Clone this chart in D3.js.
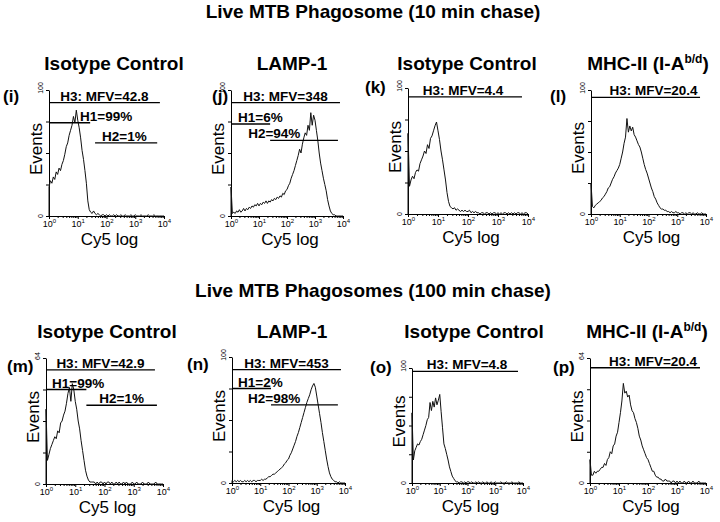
<!DOCTYPE html>
<html>
<head>
<meta charset="utf-8">
<script src="https://cdn.jsdelivr.net/npm/d3@7"></script>
<style>
  body { margin: 0; background: #fff; }
  svg text { font-family: "Liberation Sans", Arial, sans-serif; fill: #000; }
</style>
</head>
<body>
<svg id="chart" width="720" height="522"></svg>
<script>

// Data
// ====

const rowTitles = ["Live MTB Phagosome (10 min chase)", "Live MTB Phagosomes (100 min chase)"];
const panelLetters = ["(i)", "(j)", "(k)", "(l)", "(m)", "(n)", "(o)", "(p)"];
// title parts: [text, superscript, text]
const panelTitles = [
  ["Isotype Control"], ["LAMP-1"], ["Isotype Control"], ["MHC-II (I-A", "b/d", ")"],
  ["Isotype Control"], ["LAMP-1"], ["Isotype Control"], ["MHC-II (I-A", "b/d", ")"]
];
const yMax = [100, 100, 100, 100, 64, 100, 100, 64];
const xMajor = [1, 10, 100, 1000, 10000];
const xMajorExp = ["0", "1", "2", "3", "4"];

// 81 channels, 20 per decade, from 10^0 to 10^4
const channels = d3.range(81).map((k) => Math.pow(10, k / 20));

const histI = [23,28,26,31,29,35,33,38,36,41, 44,49,55,58,64,68,72,79,74,84, 76,70,62,52,45,36,26,12,5,3,
  2,4,2,1,2,1,0,1,1,0, 1,0,1,0,0,1,0,1,0,0, 1,0,0,1,0,0,0,1,0,0, 1,0,0,0,1,0,0,0,0,1, 0,0,0,1,0,0,0,0,0,0, 0];
const histJ = [23,2,3,2,4,3,5,3,4,6, 4,6,5,7,6,8,7,9,8,10, 8,10,9,11,10,12,10,12,11,13,
  12,14,13,15,14,16,15,18,17,20, 21,24,26,30,33,36,40,44,48,53, 50,57,62,66,64,72,68,82,72,80,
  76,68,60,50,42,36,30,25,20,13, 8,4,2,1,1,0,0,0,0,0, 0];
const histK = [64,22,27,30,28,33,35,34,40,43, 46,50,48,55,52,60,62,66,70,73, 66,59,50,43,35,27,17,10,6,5,
  4,5,3,4,3,2,3,2,3,2, 2,3,1,2,1,2,1,1,0,1, 1,0,1,1,0,1,0,1,1,0, 1,0,1,0,1,1,0,1,0,1, 0,1,0,1,1,0,1,0,1,1, 0];
const histL = [25,6,5,7,8,9,10,11,13,14, 16,18,21,22,25,28,30,33,35,37, 40,45,50,57,62,77,66,71,67,70,
  64,62,59,56,54,50,45,40,36,33, 29,25,21,18,14,12,9,7,5,4, 4,3,3,2,2,1,2,1,1,2,
  1,1,0,1,1,0,1,0,1,1, 0,1,0,0,1,0,0,1,0,0, 0];
const histM = [38,12,15,18,20,22,24,23,27,26, 31,32,35,37,41,46,49,42,51,48, 42,38,32,28,22,17,12,7,4,2,
  1,1,1,1,0,1,0,1,1,0, 1,0,1,1,0,1,0,0,1,0, 1,0,0,1,0,1,0,0,0,1, 0,0,1,0,0,0,1,0,0,0, 1,0,0,0,0,1,0,0,0,0, 0];
const histN = [2,1,2,1,2,1,2,1,1,2, 1,2,1,2,1,2,2,1,2,2, 2,3,2,3,3,4,5,5,6,7, 7,8,9,10,11,12,13,15,16,18,
  19,22,24,27,30,33,37,40,44,48, 52,56,60,64,67,70,74,77,79,76, 69,62,55,48,40,33,26,19,13,8,
  5,3,2,1,1,0,1,0,0,0, 0];
const histO = [61,20,28,31,34,33,36,38,42,46, 50,55,57,70,63,71,66,74,68,72, 77,62,48,34,30,25,20,14,10,6,
  4,2,1,1,0,1,1,0,1,0, 1,1,0,1,0,0,1,0,1,0, 0,1,0,0,1,0,0,1,0,0, 1,0,0,0,1,0,0,0,1,0, 0,0,1,0,0,0,0,1,0,0, 0];
const histP = [12,4,4,6,5,6,6,7,8,8, 10,9,12,13,16,15,19,20,24,26, 31,36,42,51,46,47,44,45,40,37,
  36,33,31,28,24,22,19,17,15,13, 12,10,8,6,6,4,3,3,2,2, 1,1,2,1,1,1,0,1,1,0,
  1,0,1,0,0,1,0,0,1,0, 0,1,0,0,0,1,0,0,0,0, 0];
const histograms = [histI, histJ, histK, histL, histM, histN, histO, histP];

// gate markers: [name, label, from, to, level (events)]
const gatesI = [["H3", "H3: MFV=42.8", 1, 7200, 90], ["H1", "H1=99%", 1, 27, 74], ["H2", "H2=1%", 40, 5800, 58]];
const gatesJ = [["H3", "H3: MFV=348", 1, 7800, 90], ["H1", "H1=6%", 1, 25, 73], ["H2", "H2=94%", 25, 6600, 60]];
const gatesK = [["H3", "H3: MFV=4.4", 1, 6300, 93]];
const gatesL = [["H3", "H3: MFV=20.4", 1, 6200, 94]];
const gatesM = [["H3", "H3: MFV=42.9", 1, 5300, 58], ["H1", "H1=99%", 1, 24, 48], ["H2", "H2=1%", 24, 6200, 40]];
const gatesN = [["H3", "H3: MFV=453", 1, 7200, 90], ["H1", "H1=2%", 1, 24, 75], ["H2", "H2=98%", 24, 5600, 62]];
const gatesO = [["H3", "H3: MFV=4.8", 1, 6600, 97]];
const gatesP = [["H3", "H3: MFV=20.4", 1, 6200, 59]];
const gates = [gatesI, gatesJ, gatesK, gatesL, gatesM, gatesN, gatesO, gatesP];


// Layout
// ======

const layout = [
  { left: 49,  right: 164, top: 90,  bottom: 216, titleX: 114, titleY: 70,  letterX: 3,   letterY: 102, dx: { H1: 31, H2: 7 } },
  { left: 231, right: 343, top: 90,  bottom: 216, titleX: 292, titleY: 70,  letterX: 212, letterY: 102, dx: { H1: 7, H2: -22 } },
  { left: 408, right: 528, top: 88,  bottom: 214, titleX: 467, titleY: 70,  letterX: 365, letterY: 93,  dx: { H3: -2 } },
  { left: 591, right: 706, top: 90,  bottom: 214, titleX: 648, titleY: 70,  letterX: 550, letterY: 102, dx: { H3: 8 } },
  { left: 46,  right: 163, top: 358, bottom: 484, titleX: 107, titleY: 338, letterX: 7,   letterY: 372, dx: { H1: 6, H2: 13 } },
  { left: 232, right: 345, top: 357, bottom: 483, titleX: 292, titleY: 338, letterX: 187, letterY: 370, dx: { H1: 6, H2: -23 } },
  { left: 412, right: 523, top: 368, bottom: 483, titleX: 474, titleY: 338, letterX: 370, letterY: 373, dx: { H3: 2 } },
  { left: 590, right: 706, top: 358, bottom: 483, titleX: 647, titleY: 338, letterX: 553, letterY: 373, dx: { H3: 8 } }
];
const rowTitleY = [18, 297];

const svg = d3.select('#chart');

rowTitles.forEach((t, i) => {
  svg.append('text')
    .attr('x', 373).attr('y', rowTitleY[i])
    .attr('text-anchor', 'middle')
    .style('font-size', '19px').style('font-weight', 'bold')
    .text(t);
});

histograms.forEach((hist, p) => {
  const L = layout[p];
  const g = svg.append('g');

  const x = d3.scaleLog().domain([1, 10000]).range([L.left, L.right]);
  const y = d3.scaleLinear().domain([0, yMax[p]]).range([L.bottom, L.top]);

  // panel title, with optional superscript
  const title = g.append('text')
    .attr('x', L.titleX).attr('y', L.titleY)
    .attr('text-anchor', 'middle')
    .style('font-size', '19px').style('font-weight', 'bold');
  panelTitles[p].forEach((part, i) => {
    const ts = title.append('tspan').text(part);
    if (i == 1) ts.attr('dy', -7).style('font-size', '12px');
    if (i == 2) ts.attr('dy', 7);
  });

  g.append('text')
    .attr('x', L.letterX).attr('y', L.letterY)
    .style('font-size', '17px').style('font-weight', 'bold')
    .text(panelLetters[p]);

  // axes
  const minor = [];
  xMajor.slice(0, -1).forEach((d) => { for (let m = 2; m < 10; m++) minor.push(d * m); });

  g.append('g')
    .attr('transform', `translate(0,${L.bottom})`)
    .call(d3.axisBottom(x).tickValues(minor).tickSize(2).tickFormat(''))
    .call((a) => a.select('.domain').remove());

  const xAxis = g.append('g')
    .attr('transform', `translate(0,${L.bottom})`)
    .call(d3.axisBottom(x).tickValues(xMajor).tickSizeInner(3).tickSizeOuter(0).tickFormat(''));

  xAxis.selectAll('.tick').each(function (d, i) {
    const t = d3.select(this).append('text')
      .attr('y', 11).attr('text-anchor', 'middle')
      .style('font-size', '9px');
    t.append('tspan').text('10');
    t.append('tspan').attr('dy', -4).style('font-size', '6px').text(xMajorExp[i]);
  });

  g.append('g')
    .attr('transform', `translate(${L.left},0)`)
    .call(d3.axisLeft(y).tickValues(d3.range(5).map((i) => i * yMax[p] / 4)).tickSizeInner(3).tickSizeOuter(0).tickFormat(''));

  g.selectAll('path.domain, .tick line').attr('stroke', '#000').attr('stroke-width', 1);

  [[0, L.bottom], [yMax[p], L.top - 2]].forEach(([v, yy]) => {
    g.append('text')
      .attr('transform', `translate(${L.left - 8},${yy}) rotate(-90)`)
      .attr('text-anchor', 'middle').attr('dy', '0.35em')
      .style('font-size', '7px')
      .text(v);
  });

  g.append('text')
    .attr('transform', `translate(${L.left - 7},${(L.top + L.bottom) / 2 - 4}) rotate(-90)`)
    .attr('text-anchor', 'middle')
    .style('font-size', '17px')
    .text('Events');

  g.append('text')
    .attr('x', (L.left + L.right) / 2 + 3).attr('y', L.bottom + 29)
    .attr('text-anchor', 'middle')
    .style('font-size', '17px')
    .text('Cy5 log');

  // histogram
  const pts = [[channels[0], 0]].concat(hist.map((v, i) => [channels[i], v]));
  g.append('path')
    .datum(pts)
    .attr('fill', 'none')
    .attr('stroke', '#111')
    .attr('stroke-width', 1)
    .attr('d', d3.line().x((d) => x(d[0])).y((d) => y(d[1])));

  // gates
  gates[p].forEach(([name, label, from, to, level]) => {
    const x0 = x(from), x1 = x(to), yy = y(level);
    g.append('line')
      .attr('x1', x0).attr('x2', x1).attr('y1', yy).attr('y2', yy)
      .attr('stroke', '#000').attr('stroke-width', 1.3);
    const off = (L.dx && L.dx[name]) || 0;
    g.append('text')
      .attr('x', name == 'H3' ? (x0 + x1) / 2 + off : x0 + off)
      .attr('y', yy - 2)
      .attr('text-anchor', name == 'H3' ? 'middle' : 'start')
      .style('font-size', '13.5px').style('font-weight', 'bold')
      .text(label);
  });
});

</script>
</body>
</html>
